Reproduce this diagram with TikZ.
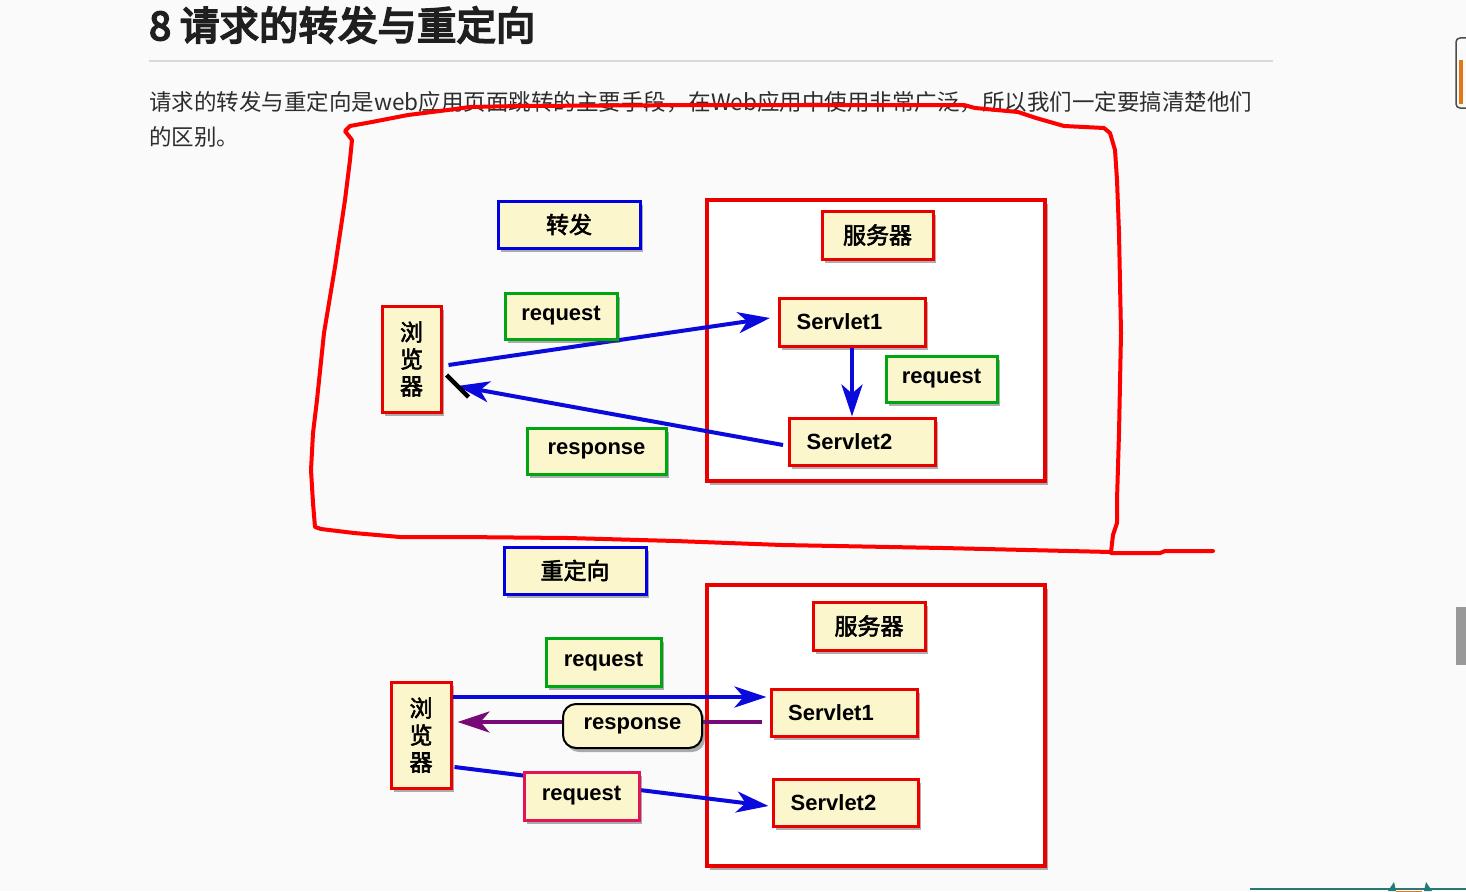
\documentclass[tikz,border=0pt]{standalone}
\usepackage{fontspec}
\setmainfont{Liberation Sans}
\newfontfamily\cjk{Noto Sans CJK SC}
\newfontfamily\cjkb{Noto Sans CJK SC}[FakeBold=2.5]
\newfontfamily\cjkh{Noto Sans CJK SC}[FakeBold=4.5]
\usetikzlibrary{arrows.meta,shadows}
\definecolor{boxfill}{RGB}{251,246,204}
\definecolor{bred}{RGB}{235,0,0}
\definecolor{bblue}{RGB}{0,0,225}
\definecolor{bgreen}{RGB}{0,165,20}
\definecolor{bpink}{RGB}{225,20,90}
\definecolor{arrblue}{RGB}{10,10,220}
\definecolor{arrpurple}{RGB}{120,10,120}
\definecolor{penred}{RGB}{255,0,0}
\definecolor{txt}{RGB}{45,45,45}
\definecolor{teal2}{RGB}{40,120,120}
\definecolor{orng}{RGB}{225,120,20}
\tikzset{
  shad/.style={drop shadow={shadow xshift=3pt,shadow yshift=-4pt,opacity=0.45,fill=black!70}},
  lbl/.style={draw, line width=3pt, fill=boxfill, inner sep=0pt, shad,
    font=\bfseries\fontsize{22}{26}\selectfont},
  cjklbl/.style={lbl, font=\cjkb\fontsize{23}{27}\selectfont, align=center},
  outerbox/.style={draw=bred, line width=4.5pt, fill=white, inner sep=0pt, shad},
  bigtip/.style={-{Stealth[length=32pt,width=21pt,inset=9pt]}},
  flow/.style={line width=4pt, draw=arrblue, bigtip},
  pen/.style={draw=penred, line width=4pt, line join=round, line cap=round},
}
\begin{document}
\begin{tikzpicture}[x=1pt,y=-1pt]
\useasboundingbox (0,0) rectangle (1466,891);
\fill[white!98!black!100] (0,0) rectangle (1466,891);

% header
\node[anchor=west, inner sep=0pt, text=black!88, font=\cjkh\fontsize{39.5}{44}\selectfont] (title) at (149,25) {8 请求的转发与重定向};
\draw[black!15, line width=1.2pt] (149,61) -- (1273,61);
\node[anchor=west, inner sep=0pt, text=txt, font=\cjk\fontsize{22.5}{28}\selectfont] (p1) at (149,102) {请求的转发与重定向是web应用页面跳转的主要手段，在Web应用中使用非常广泛，所以我们一定要搞清楚他们};
\node[anchor=west, inner sep=0pt, text=txt, font=\cjk\fontsize{22.5}{28}\selectfont] (p2) at (149,137) {的区别。};

% ---------- forward ----------
\node[outerbox, minimum width=338, minimum height=281] (srvA) at (876,340.5) {};
\node[cjklbl, draw=bblue, minimum width=142, minimum height=47] (fwd) at (569,224.5) {转发};
\node[cjklbl, draw=bred, minimum width=111, minimum height=48] (srvlblA) at (877.5,235) {服务器};
\node[cjklbl, draw=bred, minimum width=59, minimum height=106] (brA) at (411.5,359) {浏\\览\\器};

\draw[flow] ([shift={(6,6)}]brA.east) -- ([shift={(-9,-4)}]779,322) coordinate (s1in);
\draw[flow] ([shift={(-6,3.5)}]789,441.5) coordinate (s2out) -- ([shift={(15,27)}]brA.east);
\draw[black, line width=4.5pt] ([shift={(4,16)}]brA.east) -- ([shift={(26,38)}]brA.east);

\node[lbl, draw=bred, minimum width=146, minimum height=48] (s1A) at (852,322) {Servlet1\hspace*{25pt}};
\node[lbl, draw=bred, minimum width=146, minimum height=47] (s2A) at (862,441.5) {Servlet2\hspace*{25pt}};
\draw[flow] (s1A.south) -- (s1A.south |- s2A.north);
\node[lbl, draw=bgreen, minimum width=111, minimum height=46] (reqR) at (941.5,379) {request};
\node[lbl, draw=bgreen, minimum width=112, minimum height=46] (reqA) at (561,316) {request};
\node[lbl, draw=bgreen, minimum width=139, minimum height=46] (respA) at (596.5,451) {response};

% ---------- redirect ----------
\node[outerbox, minimum width=338, minimum height=281] (srvB) at (876,725.5) {};
\node[cjklbl, draw=bblue, minimum width=142, minimum height=47] (redir) at (575,570.5) {重定向};
\node[cjklbl, draw=bred, minimum width=112, minimum height=48] (srvlblB) at (869,626) {服务器};
\node[cjklbl, draw=bred, minimum width=60, minimum height=106] (brB) at (421,735) {浏\\览\\器};
\node[lbl, draw=bred, minimum width=146, minimum height=47] (s1B) at (844,712.5) {Servlet1\hspace*{26pt}};
\node[lbl, draw=bred, minimum width=145, minimum height=47] (s2B) at (845.5,802.5) {Servlet2\hspace*{24pt}};

\draw[flow] ([shift={(0,-38)}]brB.east) -- ([shift={(-3,-15.5)}]s1B.west);
\draw[line width=4pt, draw=arrpurple, bigtip] ([shift={(-8,9.5)}]s1B.west) -- ([shift={(5,-13)}]brB.east);
\draw[flow] ([shift={(2,32)}]brB.east) -- ([shift={(-3,3.5)}]s2B.west);

\node[lbl, draw=bgreen, minimum width=115, minimum height=48] (reqB1) at (603.5,662) {request};
\node[lbl, draw=bpink, minimum width=115, minimum height=48] (reqB2) at (581.5,796) {request};
\node[lbl, draw=black, line width=2pt, rounded corners=13pt, minimum width=139, minimum height=44] (respB) at (632.5,726) {response};

% ---------- freehand pen loop ----------
\draw[pen] (352,140) -- (345,131) -- (350,126) -- (372,122) -- (408,115) -- (448,110) -- (470,107)
  -- (520,106) -- (700,105) -- (964,105) -- (975,108) -- (1018,112) -- (1036,118) -- (1064,126)
  -- (1104,128) -- (1110,133) -- (1115,150) -- (1117,180) -- (1119,233) -- (1121,333) -- (1119,433)
  -- (1117,500) -- (1117,523) -- (1113,535) -- (1111,552)
  -- (943,548) -- (782,545) -- (675,541) -- (568,538) -- (461,537) -- (400,537) -- (354,533)
  -- (321,529) -- (315,527) -- (313,503) -- (311,470) -- (313,433) -- (317,400) -- (324,333)
  -- (335,267) -- (345,200) -- (350,160) -- (352,140);
\draw[pen] (1111,553) -- (1160,553) -- (1165,551) -- (1213,551);

% ---------- window chrome ----------
\draw[black!70, line width=1.5pt, rounded corners=4pt] (1456,38) rectangle (1474,108);
\fill[orng] (1459,60) rectangle (1463,104);
\fill[black!40] (1456,607) rectangle (1466,665);
\draw[teal2, line width=2pt] (1250,889) -- (1466,889);
\fill[orng] (1396,891) arc[start angle=180, end angle=0, radius=13];
\fill[teal2] (1388,891) -- (1394,882) -- (1396,891) -- cycle;
\fill[teal2] (1424,891) -- (1426,882) -- (1432,891) -- cycle;
\end{tikzpicture}
\end{document}
